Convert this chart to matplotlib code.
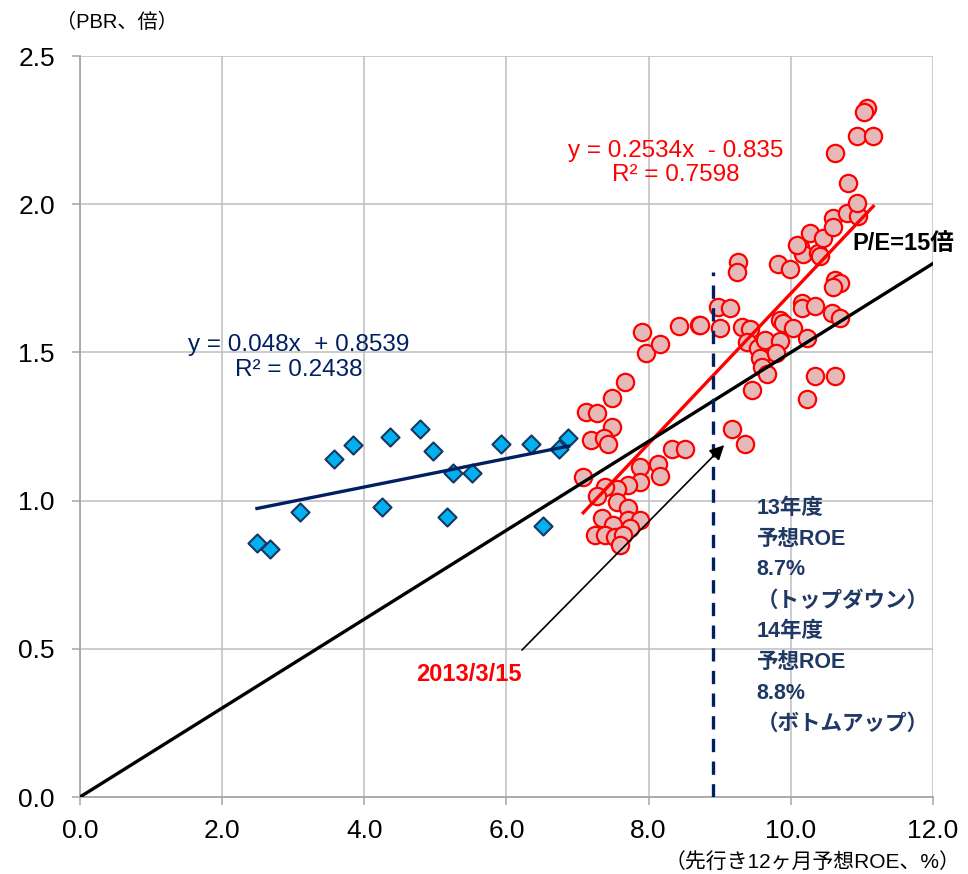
import matplotlib
matplotlib.use("Agg")
import matplotlib.pyplot as plt
import numpy as np

plt.rcParams["font.family"] = ["Liberation Sans", "Noto Sans CJK JP", "DejaVu Sans"]

# 青: 過去の月次データ (ROE, PBR)
blue_roe = [2.49, 2.67, 3.10, 3.57, 3.84, 4.25, 4.36, 4.78, 4.97, 5.25, 5.51,
            5.16, 5.92, 6.34, 6.51, 6.74, 6.87]
blue_pbr = [0.857, 0.837, 0.962, 1.140, 1.188, 0.978, 1.215, 1.242, 1.167, 1.093,
            1.093, 0.945, 1.191, 1.191, 0.914, 1.174, 1.211]

# 赤: 最近のデータ (ROE, PBR)
red_roe = [7.08, 7.12, 7.27, 7.49, 7.67, 7.49, 7.19, 7.37, 7.43, 7.91, 7.96, 8.16,
           8.43, 8.71, 8.33, 8.51, 7.88, 8.13, 8.16, 7.88, 7.71, 7.56, 7.39, 7.27,
           7.56, 7.71, 7.34, 7.71, 7.88, 7.50, 7.74, 7.25, 7.39, 7.53, 7.64, 7.60,
           9.17, 9.36, 8.72, 8.98, 9.15, 9.00, 9.31, 9.43, 9.38, 9.54, 9.64, 9.85,
           9.85, 9.89, 10.03, 9.57, 9.60, 9.67, 9.79, 9.45, 10.23, 10.16, 10.16,
           10.34, 10.58, 10.69, 10.62, 10.69, 10.59, 10.34, 10.62, 10.23, 9.26,
           9.24, 9.82, 9.99, 10.13, 10.17, 10.38, 10.41, 10.09, 10.27, 10.45,
           10.59, 10.59, 10.79, 10.95, 10.93, 10.81, 10.62, 10.93, 11.16, 11.07,
           11.03]
red_pbr = [1.080, 1.299, 1.296, 1.346, 1.400, 1.248, 1.204, 1.211, 1.191, 1.569,
           1.498, 1.528, 1.589, 1.592, 1.174, 1.174, 1.113, 1.123, 1.083, 1.063,
           1.053, 1.039, 1.046, 1.016, 0.995, 0.975, 0.941, 0.935, 0.935, 0.918,
           0.908, 0.884, 0.884, 0.877, 0.884, 0.850, 1.242, 1.191, 1.592, 1.653,
           1.650, 1.582, 1.586, 1.579, 1.535, 1.515, 1.542, 1.538, 1.609, 1.599,
           1.582, 1.481, 1.451, 1.427, 1.498, 1.373, 1.549, 1.667, 1.650, 1.657,
           1.633, 1.616, 1.744, 1.734, 1.721, 1.420, 1.420, 1.343, 1.805, 1.771,
           1.798, 1.781, 1.856, 1.832, 1.835, 1.825, 1.862, 1.903, 1.886, 1.953,
           1.923, 1.970, 1.960, 2.004, 2.072, 2.173, 2.230, 2.230, 2.325, 2.311]

# 近似式 (図中の表示値)
blue_fit = (0.048, 0.8539)
red_fit = (0.2534, -0.835)
pe_ratio = 15
roe_forecast = 8.9

fig = plt.figure(figsize=(9.68, 8.74), dpi=100)
ax = fig.add_axes([0.0826, 0.0881, 0.8812, 0.8478])

ax.set_xlim(0, 12)
ax.set_ylim(0, 2.5)
ax.set_xticks(np.arange(0, 12.1, 2.0))
ax.set_yticks(np.arange(0, 2.51, 0.5))
ax.set_xticklabels([f"{v:.1f}" for v in np.arange(0, 12.1, 2.0)])
ax.set_yticklabels([f"{v:.1f}" for v in np.arange(0, 2.51, 0.5)])
ax.grid(True, color="#BFBFBF", lw=1.1)
ax.set_axisbelow(True)
for s in ["top", "right"]:
    ax.spines[s].set_visible(False)
for s in ["left", "bottom"]:
    ax.spines[s].set_color("#A6A6A6")
    ax.spines[s].set_linewidth(1.3)
ax.tick_params(direction="out", length=6, width=1.1, color="#A6A6A6",
               labelsize=19, colors="black")
ax.tick_params(axis="y", pad=12)
ax.tick_params(axis="x", pad=10)

ax.scatter(blue_roe, blue_pbr, marker="D", s=85, facecolor="#00B0F0",
           edgecolor="#17375E", linewidth=1.5, zorder=3)
ax.scatter(red_roe, red_pbr, marker="o", s=155, facecolor="#E6B9B8",
           edgecolor="#FF0000", linewidth=1.6, zorder=3)

bx = np.array([min(blue_roe), max(blue_roe)])
ax.plot(bx, blue_fit[0] * bx + blue_fit[1], color="#002060", lw=2.4, zorder=4)
rx = np.array([min(red_roe), max(red_roe)])
ax.plot(rx, red_fit[0] * rx + red_fit[1], color="#FF0000", lw=2.4, zorder=4)
px = np.array([0, 12])
ax.plot(px, px * pe_ratio / 100, color="black", lw=2.4, zorder=4)

ax.plot([roe_forecast, roe_forecast], [0, 1.77], color="#002060", lw=2.4,
        dashes=(4, 2.8), zorder=5)

ax.text(3.08, 1.483, "y = 0.048x  + 0.8539\nR² = 0.2438", color="#002060",
        fontsize=17.5, ha="center", va="center", multialignment="center",
        linespacing=1.15)
ax.text(8.38, 2.139, "y = 0.2534x  - 0.835\nR² = 0.7598", color="#FF0000",
        fontsize=17.5, ha="center", va="center", multialignment="center",
        linespacing=1.15)
ax.text(10.86, 1.869, "P/E=15倍", color="black", fontsize=17,
        fontweight="bold", ha="left", va="center")
ax.text(5.47, 0.412, "2013/3/15", color="#FF0000", fontsize=17,
        fontweight="bold", ha="center", va="center")
ax.text(9.52, 1.01,
        "13年度\n予想ROE\n8.7%\n（トップダウン）\n14年度\n予想ROE\n8.8%\n（ボトムアップ）",
        color="#1F3864", fontsize=15.5, fontweight="bold", ha="left", va="top",
        linespacing=1.62)

ax.annotate("", xy=(9.09, 1.194), xytext=(6.19, 0.489),
            arrowprops=dict(arrowstyle="-|>", color="black", lw=1.2,
                            mutation_scale=22), zorder=6)

fig.text(0.058, 0.974, "（PBR、倍）", fontsize=14.5, ha="left", va="center")
fig.text(0.992, 0.0137, "（先行き12ヶ月予想ROE、%）", fontsize=15,
         ha="right", va="center")

fig.savefig("out.png", dpi=100)
